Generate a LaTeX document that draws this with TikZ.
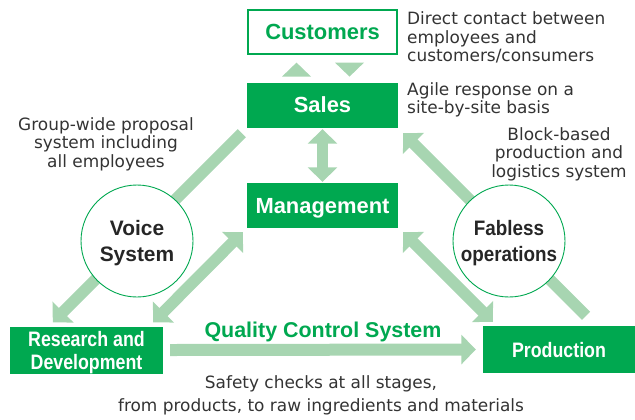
\documentclass[tikz,border=0pt]{standalone}
\usepackage{fontspec}
\setmainfont{Liberation Sans}
\newfontfamily\annfont{DejaVu Sans}
\newfontfamily\labfont{Liberation Sans}
\newfontfamily\condfont[FakeStretch=0.85]{Liberation Sans}
\newfontfamily\semifont[FakeStretch=0.9]{Liberation Sans}
\usetikzlibrary{arrows.meta,calc}
\definecolor{boxgreen}{RGB}{0,168,80}
\definecolor{arrgreen}{RGB}{167,213,177}
\definecolor{txtgray}{RGB}{51,51,51}
\pgfdeclarelayer{bg}
\pgfsetlayers{bg,main}
\begin{document}
\begin{tikzpicture}[x=1bp,y=-1bp,
  gbox/.style={fill=boxgreen, text=white, inner sep=0pt, align=center, text depth=0pt},
  mainlbl/.style={font=\labfont\bfseries\fontsize{22}{24}\selectfont},
  condlbl/.style={font=\condfont\bfseries\fontsize{21}{23}\selectfont},
  ann/.style={text=txtgray, inner sep=0pt, font=\annfont\fontsize{17}{18.5}\selectfont},
  circ/.style={circle, draw=boxgreen, line width=0.9bp, fill=white, minimum size=112bp, inner sep=0pt, align=center, text depth=0pt, text=black!85},
  arr/.style={draw=arrgreen, line width=11.5bp},
  tipA/.tip={Triangle[width=29bp,length=14.5bp]}
]
\useasboundingbox (0,0) rectangle (635,419);

% boxes
\node[draw=boxgreen, line width=1.2bp, fill=white, text=boxgreen, inner sep=0pt,
      minimum width=149bp, minimum height=44bp, mainlbl] (cust) at (322.5,32) {Customers};
\node[gbox, minimum width=151bp, minimum height=45bp, mainlbl] (sales) at (322.5,105) {Sales};
\node[gbox, minimum width=151bp, minimum height=45bp, mainlbl] (mgmt) at (322.5,205.5) {Management};
\node[gbox, minimum width=153bp, minimum height=47bp, condlbl] (rd) at (86.5,350) {Research and\\Development};
\node[gbox, minimum width=152bp, minimum height=47bp, condlbl] (prod) at (559,349.5) {Production};

% circles
\node[circ, font=\labfont\bfseries\fontsize{21}{26}\selectfont] (voice) at (137,241) {Voice\\System};
\node[circ, font=\semifont\bfseries\fontsize{21}{26}\selectfont] (fab) at (509,241) {Fabless\\operations};

% connector end points
\coordinate (a1s) at ($(sales.south west)+(-5,5.5)$);
\coordinate (a1e) at ($(rd.north west)+(43,-4)$);
\coordinate (a2s) at ($(mgmt.south west)+(-4,4)$);
\coordinate (a2e) at ($(rd.north east)+(-10,-4)$);
\coordinate (a3s) at ($(prod.north)+(27,-10)$);
\coordinate (a3e) at ($(sales.south east)+(5,5.5)$);
\coordinate (a4s) at ($(mgmt.south east)+(5,4)$);
\coordinate (a4e) at ($(prod.north west)+(10,-4)$);

\begin{pgfonlayer}{bg}
\draw[arr, -tipA] (a1s) -- (a1e);
\draw[arr, tipA-tipA] (a2s) -- (a2e);
\draw[arr, -tipA] (a3s) -- (a3e);
\draw[arr, tipA-tipA] (a4s) -- (a4e);
\draw[arr, tipA-tipA] ($(sales.south)+(0,1.5)$) -- ($(mgmt.north)+(0,-1)$);
\draw[arr, line width=12bp, -tipA] ($(rd.east)+(7,0)$) -- ($(prod.west)+(-7,0)$);
\end{pgfonlayer}

% customer/sales triangles
\fill[arrgreen] ($(cust.south)+(-40.5,22)$) -- ($(cust.south)+(-11.5,22)$) -- ($(cust.south)+(-26,8)$) -- cycle;
\fill[arrgreen] ($(cust.south)+(12.5,8)$) -- ($(cust.south)+(41.5,8)$) -- ($(cust.south)+(27,22)$) -- cycle;

% annotations
\node[ann, anchor=west, align=left] (t1) at (407,37.5) {Direct contact between\\employees and\\customers/consumers};
\node[ann, anchor=west, align=left] (t2) at (407,100) {Agile response on a\\site-by-site basis};
\node[ann, align=center] (t3) at (559,154) {Block-based\\production and\\logistics system};
\node[ann, align=center] (t4) at (106,144) {Group-wide proposal\\system including\\all employees};
\node[text=boxgreen, inner sep=0pt, text depth=0pt, font=\labfont\bfseries\fontsize{21.5}{24}\selectfont] (qcs) at (323,329.5) {Quality Control System};
\node[ann, align=center, font=\annfont\fontsize{17}{23}\selectfont] (t5) at (321,395.5) {Safety checks at all stages,\\from products, to raw ingredients and materials};
\end{tikzpicture}
\end{document}
